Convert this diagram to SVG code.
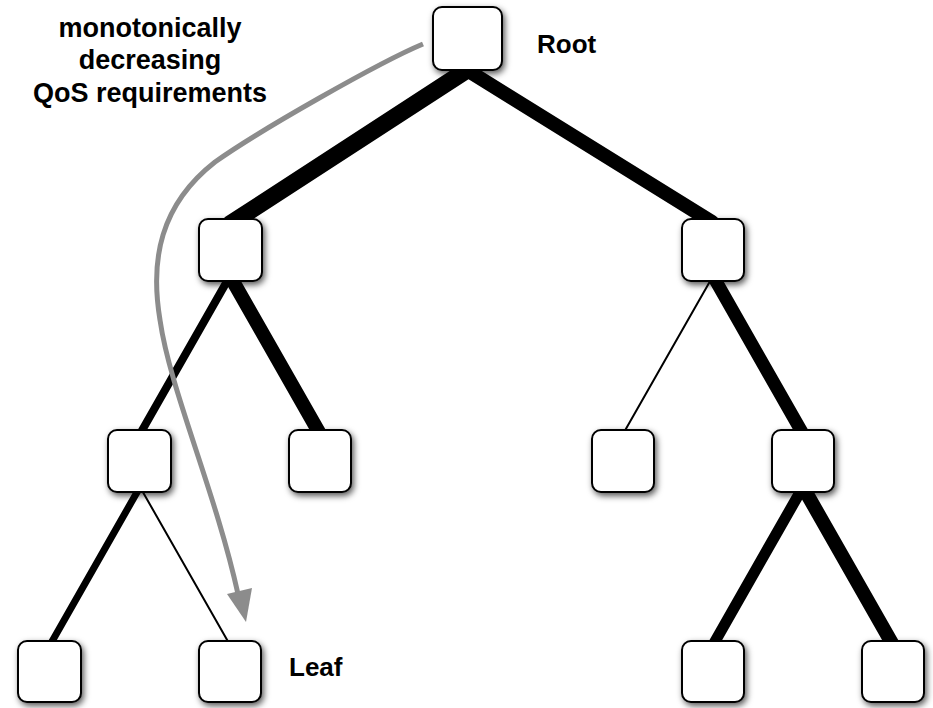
<svg xmlns="http://www.w3.org/2000/svg" width="933" height="708" viewBox="0 0 933 708">
<defs>
<filter id="sh" x="-30%" y="-30%" width="170%" height="170%">
<feDropShadow dx="2" dy="3" stdDeviation="3" flood-color="#000" flood-opacity="0.65"/>
</filter>
</defs>
<style>
.node rect{fill:#fff;stroke:#000;stroke-width:2;filter:url(#sh)}
.edge{stroke:#000;stroke-linecap:round;fill:none}
.lbl{font-family:"Liberation Sans",Arial,sans-serif;font-weight:bold;font-size:26px;fill:#000}
.ann{font-size:27px}
.flow{stroke:#8c8c8c;stroke-width:5;fill:none}
</style>
<rect width="933" height="708" fill="#fff"/>
<g id="connectors">
<line class="edge" x1="467" y1="70" x2="230" y2="224" stroke-width="17"/>
<line class="edge" x1="467" y1="70" x2="712" y2="222" stroke-width="14"/>
<line class="edge" x1="230" y1="276" x2="140" y2="434" stroke-width="8"/>
<line class="edge" x1="230" y1="276" x2="320" y2="434" stroke-width="14"/>
<line class="edge" x1="713" y1="276" x2="623" y2="434" stroke-width="2"/>
<line class="edge" x1="713" y1="276" x2="803" y2="434" stroke-width="13"/>
<line class="edge" x1="140" y1="487" x2="50" y2="645" stroke-width="7"/>
<line class="edge" x1="140" y1="487" x2="230" y2="645" stroke-width="2"/>
<line class="edge" x1="803" y1="487" x2="713" y2="645" stroke-width="11"/>
<line class="edge" x1="803" y1="487" x2="893" y2="645" stroke-width="14"/>
</g>
<g id="root" class="node"><rect x="433" y="7" width="69" height="63" rx="9"/></g>
<g id="n-l" class="node"><rect x="199" y="219" width="63" height="62" rx="9"/></g>
<g id="n-r" class="node"><rect x="682" y="219" width="62" height="62" rx="9"/></g>
<g id="n-ll" class="node"><rect x="108" y="430" width="63" height="62" rx="9"/></g>
<g id="n-lr" class="node"><rect x="289" y="430" width="62" height="62" rx="9"/></g>
<g id="n-rl" class="node"><rect x="592" y="430" width="62" height="62" rx="9"/></g>
<g id="n-rr" class="node"><rect x="772" y="430" width="62" height="62" rx="9"/></g>
<g id="n-lll" class="node"><rect x="18" y="641" width="63" height="61" rx="9"/></g>
<g id="n-llr" class="node"><rect x="199" y="641" width="62" height="61" rx="9"/></g>
<g id="n-rrl" class="node"><rect x="682" y="641" width="62" height="61" rx="9"/></g>
<g id="n-rrr" class="node"><rect x="862" y="641" width="62" height="61" rx="9"/></g>
<g id="flow">
<path class="flow" d="M 423,44 C 380,62 260,130 215,162 C 160,205 150,260 160,320 C 170,390 215,490 238,594"/>
<polygon points="227,594 252,588 246,622" fill="#8c8c8c"/>
</g>
<text class="lbl" x="537" y="53">Root</text>
<text class="lbl" x="289" y="676">Leaf</text>
<g text-anchor="middle">
<text class="lbl ann" x="150" y="37">monotonically</text>
<text class="lbl ann" x="150" y="69">decreasing</text>
<text class="lbl ann" x="150" y="102">QoS requirements</text>
</g>
</svg>
